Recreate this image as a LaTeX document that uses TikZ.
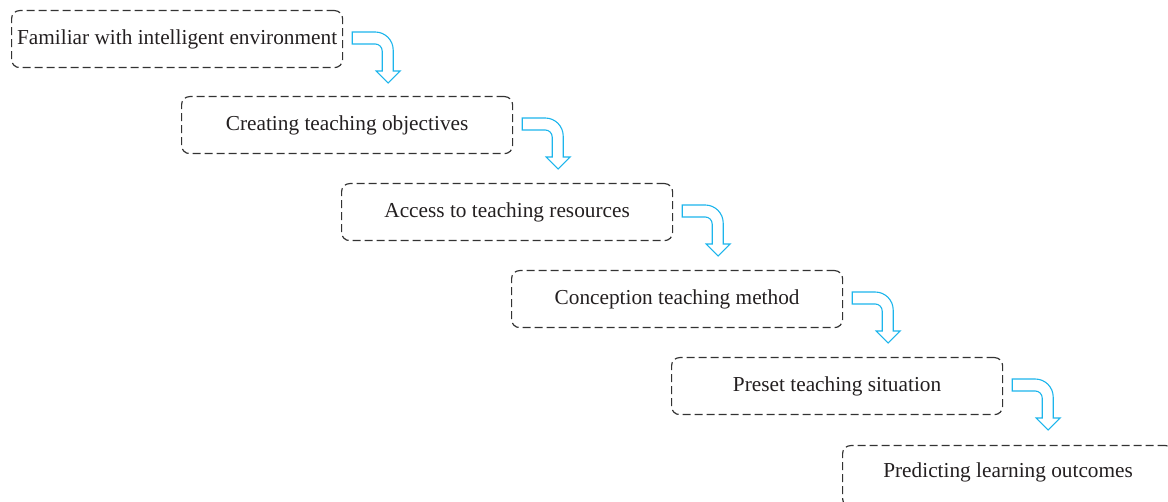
\documentclass[tikz,border=0pt]{standalone}
\usepackage{fontspec}
\setmainfont{Liberation Serif}
\usetikzlibrary{calc}
\definecolor{ink}{HTML}{231F20}
\definecolor{frame}{HTML}{333333}
\definecolor{flow}{HTML}{1CB5EC}
% bent arrow placed beside the upper right corner of a step box
\newcommand\turnarrow[1]{%
  \begin{scope}[shift={(#1.north east)}]
    \draw[turnarrow] (9,22) -- (32,22)
      .. controls (41.9,22) and (50,30.1) .. (50,40)
      -- (50,61) -- (57,61) -- (45,73) -- (33,61) -- (39,61) -- (39,41)
      .. controls (39,37.1) and (35.9,34) .. (32,34) -- (9,34) -- cycle;
  \end{scope}}
\begin{document}
\begin{tikzpicture}[x=1pt,y=-1pt,
  stepbox/.style={draw=frame, line width=1.2pt, dash pattern=on 8pt off 4pt,
    rounded corners=8pt, minimum width=331pt, minimum height=57pt,
    inner sep=0pt, text=ink, font=\fontsize{21.3}{24}\selectfont,
    anchor=north west},
  turnarrow/.style={draw=flow, line width=1.1pt, fill=white, line join=miter}]
\useasboundingbox (0,0) rectangle (1168,502);
\clip (0,0) rectangle (1168,502);
\node[stepbox] (b1) at (11,10)  {Familiar with intelligent environment};
\node[stepbox] (b2) at (181,96) {Creating teaching objectives};
\node[stepbox] (b3) at (341,183) {Access to teaching resources};
\node[stepbox] (b4) at (511,270) {Conception teaching method};
\node[stepbox] (b5) at (671,357) {Preset teaching situation};
\node[stepbox, minimum height=61pt, text depth=11pt] (b6) at (842,445)
  {Predicting learning outcomes};
\turnarrow{b1}
\turnarrow{b2}
\turnarrow{b3}
\turnarrow{b4}
\turnarrow{b5}
\end{tikzpicture}
\end{document}
